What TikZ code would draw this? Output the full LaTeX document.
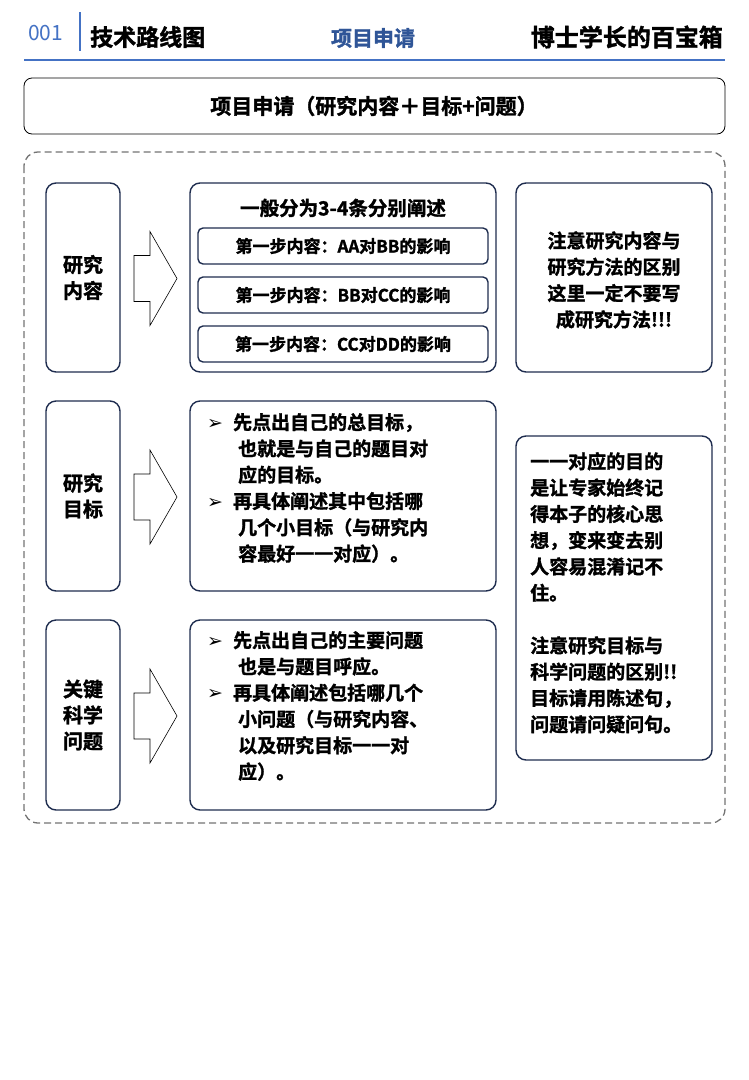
\documentclass[tikz,border=0pt]{standalone}
\usepackage{fontspec}
\setmainfont{Noto Sans CJK SC}[BoldFont={Noto Sans CJK SC Bold}, BoldFeatures={FakeBold=1.6}]
\newfontfamily\symfont{DejaVu Sans}
\usetikzlibrary{positioning, calc}
\definecolor{navy}{HTML}{1F2D4F}
\definecolor{hdblue}{HTML}{4472C4}
\definecolor{dkblue}{HTML}{2F5597}
\tikzset{
  box/.style={draw=navy, line width=1.4pt, rounded corners=10pt},
  sub/.style={draw=navy, line width=1.4pt, rounded corners=5pt},
  txt/.style={font=\fontsize{19}{26.3}\selectfont\bfseries, align=left, inner sep=0pt},
  bigarrow/.style={draw=black, line width=0.6pt, fill=white}
}
\newcommand{\bul}{{\symfont\fontsize{19}{19}\selectfont ➢}}
\begin{document}
\begin{tikzpicture}[x=1pt, y=-1pt]
	\useasboundingbox (0,0) rectangle (748,1080);
	% header
	\node[anchor=west, text=hdblue, font=\fontsize{21}{21}\selectfont, inner sep=0pt] (num) at (28,33) {001};
	\draw[hdblue, line width=2pt] (80,12) -- (80,51);
	\node[anchor=west, font=\fontsize{23}{23}\selectfont\bfseries, inner sep=0pt] (route) at (90,37) {技术路线图};
	\node[text=dkblue, font=\fontsize{21}{21}\selectfont\bfseries, inner sep=0pt] (sect) at (373,38) {项目申请};
	\node[anchor=east, font=\fontsize{24}{24}\selectfont\bfseries, inner sep=0pt] (brand) at (723,37) {博士学长的百宝箱};
	\draw[hdblue, line width=2pt] (24,60) -- (725,60);
	% title
	\draw[draw=black, line width=0.8pt, rounded corners=8pt] (24,78) rectangle (725,134);
	\node[font=\fontsize{21}{21}\selectfont\bfseries, inner sep=0pt] (title) at (374,106) {项目申请（研究内容＋目标+问题）};
	% frame
	\draw[gray!90!black, dash pattern=on 7pt off 4pt, line width=1.3pt, rounded corners=14pt] (24,152) rectangle (725,823);

	% left column
	\foreach \ya/\yb/\lab in {183/372/{研究\\内容}, 401/591/{研究\\目标}, 620/810/{关键\\科学\\问题}}{
		\draw[box] (46,\ya) rectangle (120,\yb);
		\node[txt, font=\fontsize{20}{26}\selectfont\bfseries, align=center] at (83,{(\ya+\yb)/2}) {\lab};
		\draw[bigarrow] ($(134,{(\ya+\yb)/2})+(0,-22)$) -- ++(16,0) -- ++(0,-24) -- ++(27,47) -- ++(-27,47) -- ++(0,-24) -- ++(-16,0) -- cycle;
	}

	% middle column
	\draw[box] (190,183) rectangle (496,372);
	\node[font=\fontsize{19.5}{19.5}\selectfont\bfseries, inner sep=0pt] (gen) at (343,208) {一般分为3-4条分别阐述};
	\foreach \ya/\lab in {228/{第一步内容：AA对BB的影响}, 277/{第一步内容：BB对CC的影响}, 326/{第一步内容：CC对DD的影响}}{
		\draw[sub] (198,\ya) rectangle (488,{\ya+36});
		\node[font=\fontsize{17}{17}\selectfont\bfseries, inner sep=0pt] at (343,{\ya+18}) {\lab};
	}
	\draw[box] (190,401) rectangle (496,591);
	\node[txt, anchor=north west] (goal) at (207,413) {\bul\hspace{10pt}先点出自己的总目标，\\
		\hspace{31pt}也就是与自己的题目对\\
		\hspace{31pt}应的目标。\\
		\bul\hspace{10pt}再具体阐述其中包括哪\\
		\hspace{31pt}几个小目标（与研究内\\
		\hspace{31pt}容最好一一对应）。};
	\draw[box] (190,620) rectangle (496,810);
	\node[txt, anchor=north west] (ques) at (207,631) {\bul\hspace{10pt}先点出自己的主要问题\\
		\hspace{31pt}也是与题目呼应。\\
		\bul\hspace{10pt}再具体阐述包括哪几个\\
		\hspace{31pt}小问题（与研究内容、\\
		\hspace{31pt}以及研究目标一一对\\
		\hspace{31pt}应）。};

	% right column
	\draw[box] (516,183) rectangle (712,372);
	\node[txt, align=center] (note) at (614,280) {注意研究内容与\\研究方法的区别\\这里一定不要写\\成研究方法!!!};
	\draw[box] (516,436) rectangle (712,760);
	\node[txt, anchor=north west] (tip) at (530,452) {一一对应的目的\\是让专家始终记\\得本子的核心思\\想，变来变去别\\人容易混淆记不\\住。\\[26.3pt]注意研究目标与\\科学问题的区别!!\\目标请用陈述句，\\问题请问疑问句。};
\end{tikzpicture}
\end{document}
